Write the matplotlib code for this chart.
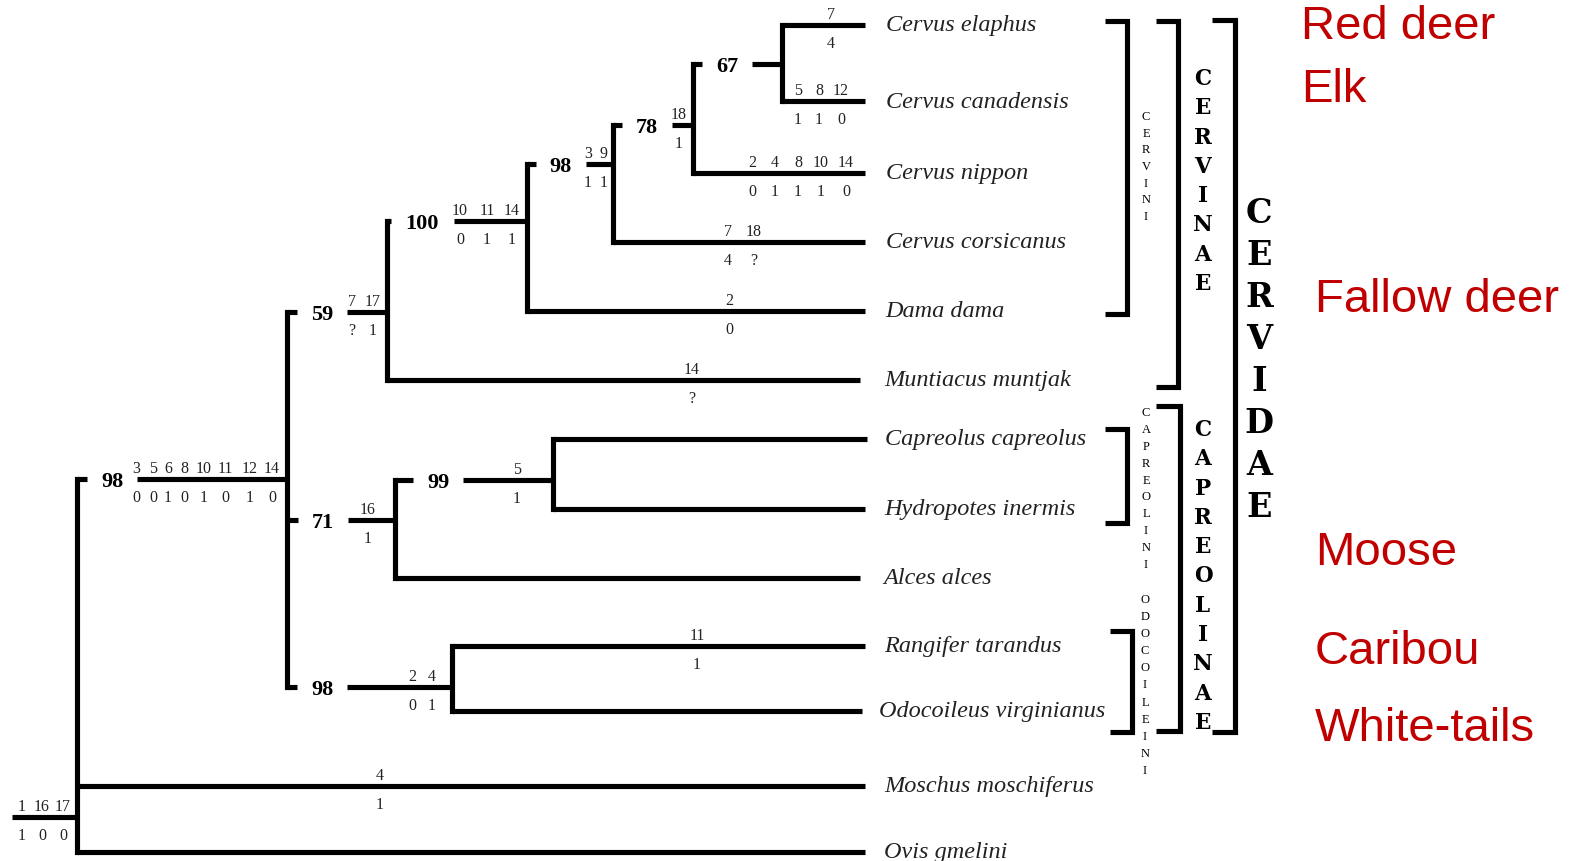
import matplotlib
matplotlib.use("Agg")
import matplotlib.pyplot as plt

# ---------------- data ----------------
taxa = ["Cervus elaphus", "Cervus canadensis", "Cervus nippon", "Cervus corsicanus",
        "Dama dama", "Muntiacus muntjak", "Capreolus capreolus", "Hydropotes inermis",
        "Alces alces", "Rangifer tarandus", "Odocoileus virginianus",
        "Moschus moschiferus", "Ovis gmelini"]
tip_parent = ["n67", "n67", "n78", "n98a", "n100", "n59", "n99", "n99", "n71",
              "n98b", "n98b", "root", "root"]
tip_chars_above = [["7"], ["5", "8", "12"], ["2", "4", "8", "10", "14"], ["7", "18"],
                   ["2"], ["14"], [], [], [], ["11"], [], ["4"], []]
tip_chars_below = [["4"], ["1", "1", "0"], ["0", "1", "1", "1", "0"], ["4", "?"],
                   ["0"], ["?"], [], [], [], ["1"], [], ["1"], []]

nodes = ["root", "cervidae", "n59", "n100", "n98a", "n78", "n67", "n71", "n99", "n98b"]
node_parent = [None, "root", "cervidae", "n59", "n100", "n98a", "n78",
               "cervidae", "n71", "cervidae"]
bootstrap = [None, "98", "59", "100", "98", "78", "67", "71", "99", "98"]
node_chars_above = [["1", "16", "17"], ["3", "5", "6", "8", "10", "11", "12", "14"],
                    ["7", "17"], ["10", "11", "14"], ["3", "9"], ["18"], [], ["16"],
                    ["5"], ["2", "4"]]
node_chars_below = [["1", "0", "0"], ["0", "0", "1", "0", "1", "0", "1", "0"],
                    ["?", "1"], ["0", "1", "1"], ["1", "1"], ["1"], [], ["1"],
                    ["1"], ["0", "1"]]

groups = ["CERVINI", "CERVINAE", "CERVIDAE", "CAPREOLINI", "CAPREOLINAE", "ODOCOILEINI"]

common_names = ["Red deer", "Elk", "Fallow deer", "Moose", "Caribou", "White-tails"]

# ---------------- layout (pixel space of the drawing) ----------------
tip_y = [26, 102, 174, 243, 312, 381, 440, 510, 579, 647, 712, 787, 853]
tip_end = [865, 865, 865, 865, 865, 860, 867, 865, 860, 865, 862, 865, 865]
tip_label_x = [886, 886, 886, 886, 885, 884, 885, 884, 883, 884, 879, 884, 884]
tip_chars_x = [[831], [798, 819, 841], [752, 775, 798, 821, 846], [728, 754], [729],
               [692], [], [], [], [697], [], [380], []]
node_x = [77, 287, 387, 527, 613, 693, 782, 395, 553, 452]
node_y = [818, 480, 313, 222, 165, 126, 65, 521, 481, 688]
boot_x = [None, 112, 322, 422, 561, 647, 727, 323, 438, 322]
node_chars_x = [[22, 42, 63], [136, 153, 168, 184, 204, 225, 250, 272], [352, 373],
                [460, 487, 512], [588, 604], [679], [], [368], [517], [412, 432]]
root_stem_start = 12

group_x = [1127, 1178, 1235, 1127, 1180, 1132]
group_top = [22, 22, 21, 430, 407, 632]
group_bottom = [315, 388, 733, 524, 732, 733]
group_arm = [22, 22, 23, 22, 24, 22]
group_text_x = [1146, 1203, 1259, 1146, 1203, 1145]
group_text_y0 = [117, 79, 214, 413, 430, 600]
group_text_step = [16.7, 29.3, 41.9, 16.9, 29.3, 17.1]
group_text_size = [9, 15.5, 24, 9, 15.5, 9]
group_text_font = ["Liberation Serif", "DejaVu Serif", "DejaVu Serif",
                   "Liberation Serif", "DejaVu Serif", "Liberation Serif"]
group_text_weight = ["normal", "bold", "bold", "normal", "bold", "normal"]

common_x = [1301, 1301, 1315, 1315, 1315, 1315]
common_base = [39, 102, 312, 565, 664, 741]

# ---------------- drawing ----------------
W, H = 1575, 862
fig = plt.figure(figsize=(W / 100, H / 100), dpi=100)
ax = fig.add_axes([0, 0, 1, 1])
ax.set_xlim(0, W)
ax.set_ylim(H, 0)
ax.axis("off")

LW = 3.7
SERIF = "Liberation Serif"
SANS = "Liberation Sans"
CH_FS = 11.5
ABOVE, BELOW = -11, 18


def hline(x0, x1, y):
    ax.plot([x0, x1], [y, y], color="black", lw=LW, solid_capstyle="butt")


def vline(x, y0, y1):
    ax.plot([x, x], [y0, y1], color="black", lw=LW, solid_capstyle="projecting")


def chars(xs, above, below, y):
    for x, s in zip(xs, above):
        ax.text(x, y + ABOVE, s, ha="center", va="center", fontsize=CH_FS,
                family=SERIF, color="#222222")
    for x, s in zip(xs, below):
        ax.text(x, y + BELOW, s, ha="center", va="center", fontsize=CH_FS,
                family=SERIF, color="#222222")


idx = {n: i for i, n in enumerate(nodes)}

# vertical connectors of internal nodes
for i, n in enumerate(nodes):
    ys = [tip_y[k] for k, p in enumerate(tip_parent) if p == n]
    ys += [node_y[k] for k, p in enumerate(node_parent) if p == n]
    vline(node_x[i], min(ys), max(ys))

# internal branches
for i, n in enumerate(nodes):
    p = node_parent[i]
    if p is None:
        hline(root_stem_start, node_x[i], node_y[i])
    else:
        px = node_x[idx[p]]
        half = 12 + 6.5 * len(bootstrap[i])
        hline(px, boot_x[i] - half, node_y[i])
        hline(boot_x[i] + half, node_x[i], node_y[i])
        ax.text(boot_x[i], node_y[i] + 2, bootstrap[i], ha="center", va="center",
                fontsize=16, fontweight="bold", family=SERIF)
    chars(node_chars_x[i], node_chars_above[i], node_chars_below[i], node_y[i])

# terminal branches
for k, t in enumerate(taxa):
    px = node_x[idx[tip_parent[k]]]
    hline(px, tip_end[k], tip_y[k])
    chars(tip_chars_x[k], tip_chars_above[k], tip_chars_below[k], tip_y[k])
    ax.text(tip_label_x[k], tip_y[k], t, ha="left", va="center", fontsize=17.5,
            style="italic", family=SERIF, color="#222222")

# group brackets
for g in range(len(groups)):
    x, t, b, a = group_x[g], group_top[g], group_bottom[g], group_arm[g]
    ax.plot([x - a, x, x, x - a], [t, t, b, b], color="black", lw=LW,
            solid_joinstyle="miter", solid_capstyle="butt")
    for j, letter in enumerate(groups[g]):
        ax.text(group_text_x[g], group_text_y0[g] + j * group_text_step[g], letter,
                ha="center", va="center", fontsize=group_text_size[g],
                fontweight=group_text_weight[g], family=group_text_font[g])

# common names
for name, x, y in zip(common_names, common_x, common_base):
    ax.text(x, y, name, ha="left", va="baseline", fontsize=34, family=SANS,
            color="#C00000")

fig.savefig("out.png", dpi=100, facecolor="white")
